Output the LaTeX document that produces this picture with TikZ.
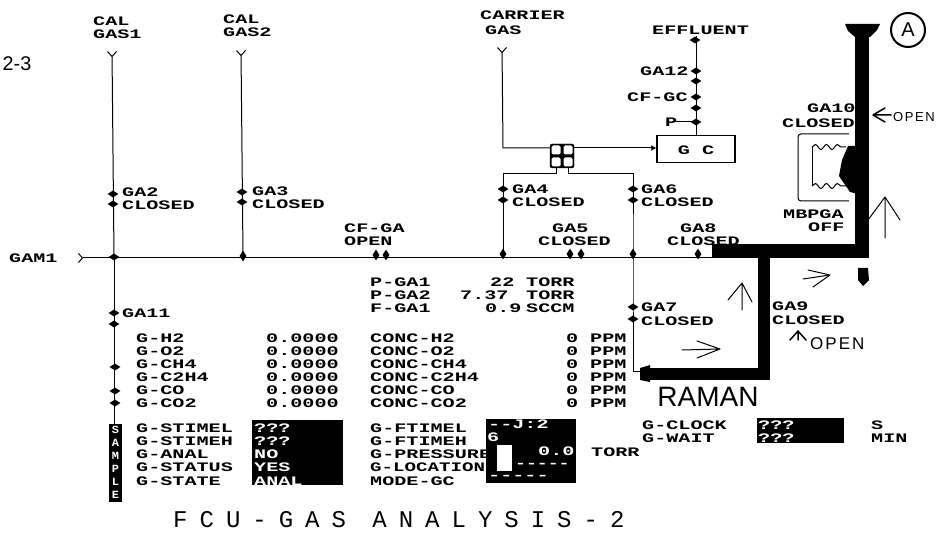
\documentclass[tikz,border=0pt]{standalone}
\usepackage{fontspec}
\setmainfont{Liberation Sans}
\setmonofont[FakeStretch=1.55]{Liberation Mono}
\newfontfamily\titlefont[LetterSpace=50]{Liberation Mono}
\newfontfamily\handfont[LetterSpace=12]{Liberation Sans}
\definecolor{PanelInk}{HTML}{000000}
\usetikzlibrary{positioning,calc,shapes.geometric,arrows.meta,decorations.pathmorphing}
\tikzset{
  lbl/.style={anchor=west, inner sep=0pt, text=PanelInk, font=\fontsize{13}{13}\ttfamily\bfseries},
  lblrev/.style={lbl, text=white},
  valve/.style={diamond, fill=PanelInk, inner sep=0pt, minimum width=11pt, minimum height=7pt},
  valveh/.style={diamond, fill=PanelInk, inner sep=0pt, minimum width=7pt, minimum height=11pt},
  pipe/.style={draw=PanelInk, line width=1pt},
  fatpipe/.style={draw=PanelInk, line width=14pt},
  inlet/.style={pipe, {Straight Barb[reversed,length=5pt,width=9pt]}-},
  hand/.style={draw=PanelInk, line width=1pt, line cap=round, line join=round},
  handtxt/.style={inner sep=0pt, text=PanelInk, font=\handfont},
  blackbox/.style={fill=PanelInk, inner sep=0pt, anchor=north west}
}
\begin{document}
\begin{tikzpicture}[x=1pt,y=-1pt]
  \useasboundingbox (0,0) rectangle (945,534);
  \fill[white] (0,0) rectangle (945,534);

  % pipe junctions
  \coordinate (in1) at (112,51);
  \coordinate (in2) at (241,50);
  \coordinate (in3) at (502,47);
  \coordinate (j1) at (114,257);
  \coordinate (j2) at (243,256);
  \coordinate (j3) at (503,254);
  \coordinate (j4) at (633,254);
  \coordinate (gasin) at (78,258);
  \coordinate (fatstart) at (712,251);
  \coordinate (c1) at (503,148);
  \coordinate (m1) at (556,174);
  \coordinate (m2) at (568,174);
  \coordinate (c2) at (503,174);
  \coordinate (c3) at (633,174);
  \coordinate (c4) at (633,372);
  \coordinate (s1) at (114,424);
  \coordinate (eff) at (696,36);
  \coordinate (t1) at (696,122);
  \coordinate (t2) at (672,122);

  % black panels under the text
  \node[blackbox, minimum width=91pt, minimum height=65pt] (stimebox) at (252,420) {};
  \node[blackbox, minimum width=90pt, minimum height=64pt] (ftimebox) at (486,419) {};
  \node[blackbox, minimum width=87pt, minimum height=25pt] (clockbox) at (757,418) {};
  \node[blackbox, fill=white, minimum width=15pt, minimum height=26pt] (locbox) at (497,445) {};
  \node[blackbox, minimum width=13pt, minimum height=78pt] (samplebox) at (109,424) {};

  % GC and junction block
  \node[draw=PanelInk, line width=1.2pt, minimum width=78pt, minimum height=27pt, inner sep=0pt] (gc) at (696,149) {};
  \node[font=\fontsize{13}{13}\ttfamily\bfseries, inner sep=0pt] (gctxt) at (696,150) {G C};
  \node[draw=PanelInk, fill=PanelInk, rounded corners=2pt, minimum width=24pt, minimum height=24pt, inner sep=0pt] (vb) at (562,156) {};
  \foreach \nm/\x/\y in {a/556/150, b/568/150, c/556/162, d/568/162}
    \node[fill=white, rounded corners=1.5pt, minimum size=9pt, inner sep=0pt] (vb\nm) at (\x,\y) {};

  % thin lines
  \draw[inlet] (in1) -- (j1);
  \draw[inlet] (in2) -- (j2);
  \draw[inlet] (in3) -- (c1) -- (vb.west |- c1);
  \draw[pipe, -{Latex[length=5pt,width=6pt]}] (vb.east |- c1) -- (gc.west |- c1);
  \draw[pipe, {Straight Barb[reversed,length=4pt,width=9pt]}-] (gasin) -- (fatstart |- gasin);
  \draw[pipe] (j1) -- (s1);
  \draw[pipe] (vb.south -| m1) -- (m1) -- (c2) -- (j3);
  \draw[pipe] (vb.south -| m2) -- (m2) -- (c3) -- (j4) -- (c4) -- ++(8,0);
  \draw[pipe] (eff) -- (gc.north -| eff);
  \draw[pipe] (t1) -- (t2);

  % fat lines
  \draw[fatpipe] (fatstart) -- (862,251);
  \draw[fatpipe, line cap=butt] (862,30) -- (862,258);
  \draw[fatpipe, line width=12pt] (764,250) -- (764,374) -- (646,374);
  \fill[PanelInk] (845,24) -- (880,24) -- (877,30) -- (870,37) -- (855,37) -- (848,31) -- cycle;
  \fill[PanelInk] (858,268) -- (868,268) -- (869,280) -- (863,286) -- (858,280) -- cycle;
  \fill[PanelInk] (640,368) -- (650,365) -- (650,382) -- (640,380) -- cycle;

  % furnace loop
  \draw[pipe, rounded corners=3pt] (849,134) -- (798,134) -- (798,201) -- (849,201);
  \draw[pipe, decorate, decoration={snake, amplitude=2.5pt, segment length=11pt}] (812,147) -- (846,147);
  \draw[pipe, decorate, decoration={snake, amplitude=2.5pt, segment length=11pt}] (812,186) -- (846,186);
  \draw[pipe] (812,147) -- (812,186);
  \fill[PanelInk] (848,146) -- (858,146) -- (858,194) -- (850,192) -- (839,176) -- (842,160) -- cycle;

  % valves
  \foreach \nm/\x/\y in {vga2a/113/194, vga2b/113/204, vga3a/242/192, vga3b/242/202, vga4a/503/189, vga4b/503/200,
      vga6a/633/189, vga6b/633/200, vga7a/633/307, vga7b/633/319, vga11a/114/313, vga11b/114/324,
      vs1/115/367, vs2/115/391, vs3/115/403, veff/695/40, vga12a/696/71, vga12b/696/81, vcfa/696/97, vcfb/696/108, vtee/696/122, vj1/114/257}
    \node[valve] (\nm) at (\x,\y) {};
  \foreach \nm/\x/\y in {vcfga1/376/255, vcfga2/386/255, vga5a/570/254, vga5b/581/254, vga8/698/254, vj3/503/254, vj4/633/254, vj2/243/256}
    \node[valveh] (\nm) at (\x,\y) {};

  % labels
  \foreach \nm/\x/\y/\txt in {cal1/93/21/CAL, gas1/93/34/GAS1, cal2/223/19/CAL, gas2/223/32/GAS2, car/480/15/CARRIER, gas3/485/30/GAS,
      eflu/652/30/EFFLUENT, ga12/640/71/GA12, cfgc/627/97/CF-GC, ptee/665/122/P,
      ga2/122/192/GA2, cl2/122/205/CLOSED, ga3/252/191/GA3, cl3/252/204/CLOSED, cfga/344/228/CF-GA, opn/344/241/OPEN,
      ga4/512/189/GA4, cl4/512/202/CLOSED, ga6/641/189/GA6, cl6/641/202/CLOSED, ga5/552/228/GA5, cl5/538/241/CLOSED,
      ga8/680/228/GA8, cl8/667/241/CLOSED, ga10/807/108/GA10, cl10/782/123/CLOSED, mbp/783/214/MBPGA, off/808/227/OFF,
      gam/9/258/GAM1, ga7/641/307/GA7, cl7/641/321/CLOSED, ga9/772/306/GA9, cl9/772/320/CLOSED, ga11/122/313/GA11,
      pga1/370/282/P-GA1, pga2/370/295/P-GA2, fga1/370/308/F-GA1, v22/490/282/22, v737/460/295/7.37, v09/485/308/0.9,
      u1/526/282/TORR, u2/526/295/TORR, u3/526/308/SCCM,
      gn/136/338/G-H2, go/136/351/G-O2, gc4/136/364/G-CH4, gc2/136/377/G-C2H4, gco/136/390/G-CO, gcz/136/403/G-CO2,
      cn/370/338/CONC-H2, co/370/351/CONC-O2, cc4/370/364/CONC-CH4, cc2/370/377/CONC-C2H4, cco/370/390/CONC-CO, ccz/370/403/CONC-CO2,
      g1/136/428/G-STIMEL, g2/136/441/G-STIMEH, g3/136/454/G-ANAL, g4/136/467/G-STATUS, g5/136/481/G-STATE,
      f1/370/428/G-FTIMEL, f2/370/441/G-FTIMEH, f3/370/454/G-PRESSURE, f5/370/481/MODE-GC,
      torr/591/452/TORR, clk/642/425/G-CLOCK, wt/642/438/G-WAIT, su/871/425/S, mn/871/438/MIN}
    \node[lbl] (\nm) at (\x,\y) {\txt};
  \node[lbl, xscale=.95] (f4) at (370,467) {G-LOCATION};
  \foreach \nm/\y in {a/338, b/351, c/364, d/377, e/390, f/403}{
    \node[lbl] (val\nm) at (266,\y) {0.0000};
    \node[lbl] (zero\nm) at (566,\y) {0};
    \node[lbl] (ppm\nm) at (590,\y) {PPM};
  }

  % text on black
  \foreach \nm/\x/\y/\txt in {r1/254/428/???, r2/254/441/???, r3/254/454/NO, r4/254/467/YES, r5/254/481/ANAL,
      s1t/488/424/--J:2, s2t/487/437/6, s3t/538/451/0.0, s5t/488/477/-----,
      k1/758/425/???, k2/758/438/???}
    \node[lblrev] (\nm) at (\x,\y) {\txt};
  \node[lblrev, xscale=.9] (s4t) at (515,465) {-----};
  \foreach \nm/\y/\txt in {la/430/S, lb/443/A, lc/456/M, ld/469/P, le/482/L, lf/495/E}
    \node[lblrev, anchor=center, font=\fontsize{11}{11}\ttfamily\bfseries, xscale=.7] (\nm) at (115.5,\y) {\txt};

  % title
  \node[anchor=west, inner sep=0pt, font=\fontsize{24}{24}\titlefont] (title) at (173,520) {FCU-GAS ANALYSIS-2};

  % pencil marks
  \node[handtxt, font=\fontsize{22}{22}\selectfont, scale=.9] (page) at (17,64) {2-3};
  \node[draw=PanelInk, circle, line width=2pt, minimum size=34pt, inner sep=0pt, font=\fontsize{20}{20}\selectfont] (circA) at (908,30) {A};
  \node[handtxt, font=\fontsize{28}{28}\selectfont] (raman) at (708,397) {RAMAN};
  \node[handtxt, anchor=west, font=\fontsize{13}{13}\handfont] (open1) at (893,117) {OPEN};
  \node[handtxt, anchor=west, font=\fontsize{17}{17}\handfont] (open2) at (810,344) {OPEN};
  \draw[hand, line width=1.5pt] (885,108) -- (873,115) -- (885,122) (873,115) -- (891,115);
  \draw[hand] (885,238) -- (885,197) (868,220) -- (885,197) -- (900,220);
  \draw[hand] (742,310) -- (742,283) (728,300) -- (742,283) -- (752,302);
  \draw[hand] (803,279) -- (830,275) (808,270) -- (830,275) -- (813,287);
  \draw[hand] (682,350) -- (720,349) (697,341) -- (720,349) -- (697,358);
  \draw[hand, line width=1.5pt] (798,340) -- (798,331) (790,340) -- (798,331) -- (806,340);
\end{tikzpicture}
\end{document}
